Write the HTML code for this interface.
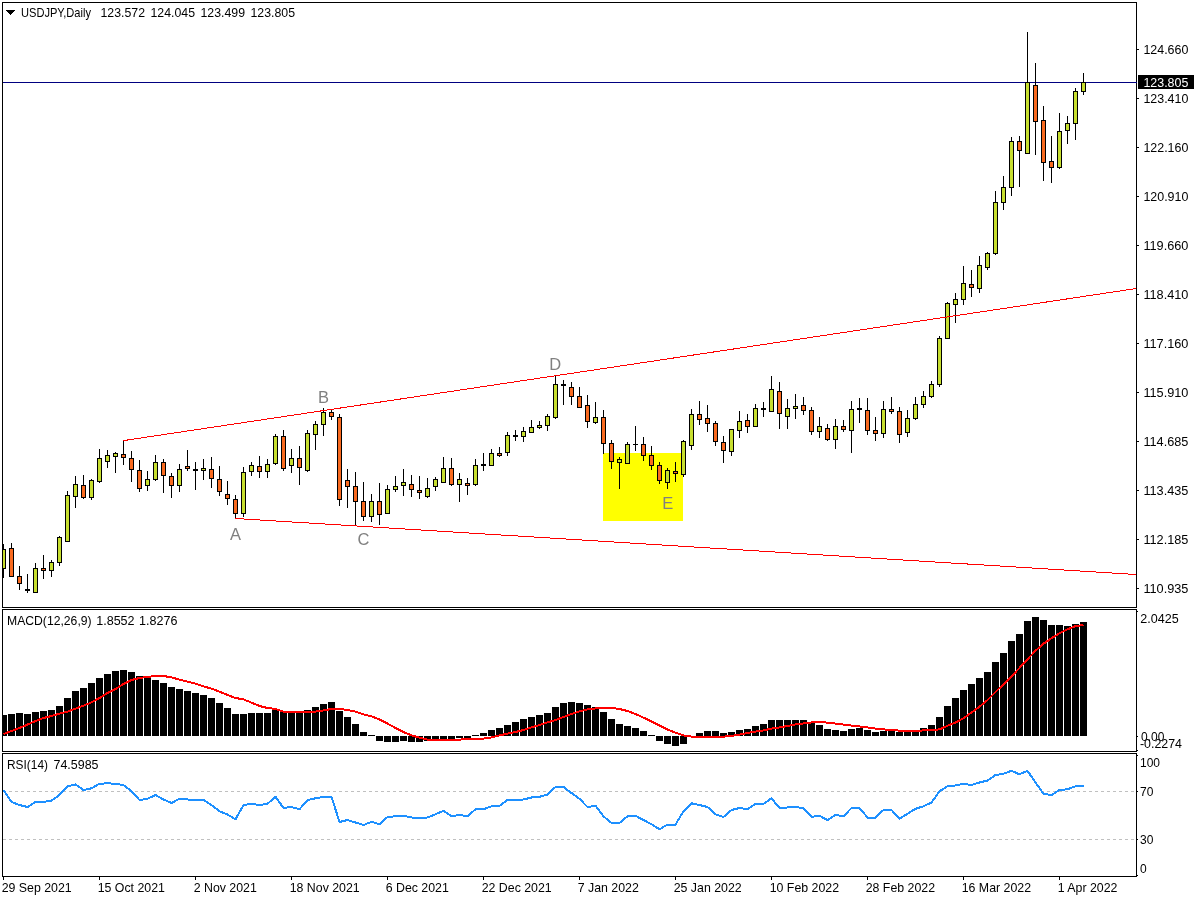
<!DOCTYPE html>
<html lang="en"><head><meta charset="utf-8"><title>USDJPY,Daily</title>
<style>html,body{margin:0;padding:0;background:#fff}body{width:1200px;height:900px;overflow:hidden}svg{display:block}text{font-family:"Liberation Sans",sans-serif;font-size:12px;fill:#000}.lbl{font-size:16.5px;fill:#808080}</style></head><body>
<svg width="1200" height="900" viewBox="0 0 1200 900">
<rect x="0" y="0" width="1200" height="900" fill="#fff"/>
<defs><clipPath id="cm"><rect x="3" y="3" width="1133" height="604"/></clipPath><clipPath id="c2"><rect x="3" y="610" width="1133" height="141"/></clipPath><clipPath id="c3"><rect x="3" y="754" width="1133" height="122"/></clipPath></defs>
<g shape-rendering="crispEdges">
<rect x="603" y="453" width="80" height="68" fill="#FFFF00"/>
<rect x="3" y="82" width="1133" height="1" fill="#000080"/>
<g clip-path="url(#cm)">
<rect x="3" y="544" width="1" height="34" fill="#000"/>
<rect x="1" y="549" width="5" height="20" fill="#000"/>
<rect x="2" y="550" width="3" height="18" fill="#C7DE2F"/>
<rect x="11" y="543" width="1" height="34" fill="#000"/>
<rect x="9" y="548" width="5" height="29" fill="#000"/>
<rect x="10" y="549" width="3" height="27" fill="#F96A1F"/>
<rect x="19" y="566" width="1" height="24" fill="#000"/>
<rect x="17" y="576" width="5" height="8" fill="#000"/>
<rect x="18" y="577" width="3" height="6" fill="#F96A1F"/>
<rect x="27" y="574" width="1" height="19" fill="#000"/>
<rect x="25" y="589" width="5" height="2" fill="#000"/>
<rect x="35" y="563" width="1" height="30" fill="#000"/>
<rect x="33" y="568" width="5" height="25" fill="#000"/>
<rect x="34" y="569" width="3" height="23" fill="#C7DE2F"/>
<rect x="43" y="555" width="1" height="24" fill="#000"/>
<rect x="41" y="568" width="5" height="3" fill="#000"/>
<rect x="42" y="569" width="3" height="1" fill="#F96A1F"/>
<rect x="51" y="560" width="1" height="17" fill="#000"/>
<rect x="49" y="562" width="5" height="9" fill="#000"/>
<rect x="50" y="563" width="3" height="7" fill="#C7DE2F"/>
<rect x="59" y="536" width="1" height="30" fill="#000"/>
<rect x="57" y="537" width="5" height="26" fill="#000"/>
<rect x="58" y="538" width="3" height="24" fill="#C7DE2F"/>
<rect x="67" y="491" width="1" height="51" fill="#000"/>
<rect x="65" y="495" width="5" height="47" fill="#000"/>
<rect x="66" y="496" width="3" height="45" fill="#C7DE2F"/>
<rect x="75" y="476" width="1" height="32" fill="#000"/>
<rect x="73" y="484" width="5" height="13" fill="#000"/>
<rect x="74" y="485" width="3" height="11" fill="#C7DE2F"/>
<rect x="83" y="475" width="1" height="24" fill="#000"/>
<rect x="81" y="485" width="5" height="13" fill="#000"/>
<rect x="82" y="486" width="3" height="11" fill="#F96A1F"/>
<rect x="91" y="479" width="1" height="21" fill="#000"/>
<rect x="89" y="480" width="5" height="18" fill="#000"/>
<rect x="90" y="481" width="3" height="16" fill="#C7DE2F"/>
<rect x="99" y="449" width="1" height="34" fill="#000"/>
<rect x="97" y="458" width="5" height="24" fill="#000"/>
<rect x="98" y="459" width="3" height="22" fill="#C7DE2F"/>
<rect x="107" y="450" width="1" height="18" fill="#000"/>
<rect x="105" y="455" width="5" height="7" fill="#000"/>
<rect x="106" y="456" width="3" height="5" fill="#C7DE2F"/>
<rect x="115" y="452" width="1" height="21" fill="#000"/>
<rect x="113" y="453" width="5" height="4" fill="#000"/>
<rect x="114" y="454" width="3" height="2" fill="#C7DE2F"/>
<rect x="123" y="440" width="1" height="25" fill="#000"/>
<rect x="121" y="454" width="5" height="4" fill="#000"/>
<rect x="122" y="455" width="3" height="2" fill="#F96A1F"/>
<rect x="131" y="451" width="1" height="31" fill="#000"/>
<rect x="129" y="458" width="5" height="12" fill="#000"/>
<rect x="130" y="459" width="3" height="10" fill="#F96A1F"/>
<rect x="139" y="460" width="1" height="32" fill="#000"/>
<rect x="137" y="470" width="5" height="19" fill="#000"/>
<rect x="138" y="471" width="3" height="17" fill="#F96A1F"/>
<rect x="147" y="471" width="1" height="20" fill="#000"/>
<rect x="145" y="479" width="5" height="7" fill="#000"/>
<rect x="146" y="480" width="3" height="5" fill="#C7DE2F"/>
<rect x="155" y="455" width="1" height="26" fill="#000"/>
<rect x="153" y="462" width="5" height="18" fill="#000"/>
<rect x="154" y="463" width="3" height="16" fill="#C7DE2F"/>
<rect x="163" y="459" width="1" height="34" fill="#000"/>
<rect x="161" y="462" width="5" height="14" fill="#000"/>
<rect x="162" y="463" width="3" height="12" fill="#F96A1F"/>
<rect x="171" y="473" width="1" height="25" fill="#000"/>
<rect x="169" y="476" width="5" height="10" fill="#000"/>
<rect x="170" y="477" width="3" height="8" fill="#F96A1F"/>
<rect x="179" y="464" width="1" height="28" fill="#000"/>
<rect x="177" y="469" width="5" height="17" fill="#000"/>
<rect x="178" y="470" width="3" height="15" fill="#C7DE2F"/>
<rect x="187" y="450" width="1" height="21" fill="#000"/>
<rect x="185" y="466" width="5" height="3" fill="#000"/>
<rect x="186" y="467" width="3" height="1" fill="#F96A1F"/>
<rect x="195" y="462" width="1" height="28" fill="#000"/>
<rect x="193" y="469" width="5" height="2" fill="#000"/>
<rect x="203" y="459" width="1" height="21" fill="#000"/>
<rect x="201" y="468" width="5" height="3" fill="#000"/>
<rect x="202" y="469" width="3" height="1" fill="#C7DE2F"/>
<rect x="211" y="457" width="1" height="31" fill="#000"/>
<rect x="209" y="469" width="5" height="10" fill="#000"/>
<rect x="210" y="470" width="3" height="8" fill="#F96A1F"/>
<rect x="219" y="466" width="1" height="30" fill="#000"/>
<rect x="217" y="479" width="5" height="13" fill="#000"/>
<rect x="218" y="480" width="3" height="11" fill="#F96A1F"/>
<rect x="227" y="481" width="1" height="24" fill="#000"/>
<rect x="225" y="494" width="5" height="5" fill="#000"/>
<rect x="226" y="495" width="3" height="3" fill="#F96A1F"/>
<rect x="235" y="495" width="1" height="24" fill="#000"/>
<rect x="233" y="499" width="5" height="15" fill="#000"/>
<rect x="234" y="500" width="3" height="13" fill="#F96A1F"/>
<rect x="243" y="467" width="1" height="50" fill="#000"/>
<rect x="241" y="472" width="5" height="42" fill="#000"/>
<rect x="242" y="473" width="3" height="40" fill="#C7DE2F"/>
<rect x="251" y="462" width="1" height="14" fill="#000"/>
<rect x="249" y="465" width="5" height="7" fill="#000"/>
<rect x="250" y="466" width="3" height="5" fill="#C7DE2F"/>
<rect x="259" y="456" width="1" height="22" fill="#000"/>
<rect x="257" y="466" width="5" height="6" fill="#000"/>
<rect x="258" y="467" width="3" height="4" fill="#F96A1F"/>
<rect x="267" y="459" width="1" height="19" fill="#000"/>
<rect x="265" y="464" width="5" height="8" fill="#000"/>
<rect x="266" y="465" width="3" height="6" fill="#C7DE2F"/>
<rect x="275" y="434" width="1" height="31" fill="#000"/>
<rect x="273" y="436" width="5" height="28" fill="#000"/>
<rect x="274" y="437" width="3" height="26" fill="#C7DE2F"/>
<rect x="283" y="430" width="1" height="41" fill="#000"/>
<rect x="281" y="436" width="5" height="33" fill="#000"/>
<rect x="282" y="437" width="3" height="31" fill="#F96A1F"/>
<rect x="291" y="449" width="1" height="24" fill="#000"/>
<rect x="289" y="458" width="5" height="8" fill="#000"/>
<rect x="290" y="459" width="3" height="6" fill="#C7DE2F"/>
<rect x="299" y="446" width="1" height="39" fill="#000"/>
<rect x="297" y="458" width="5" height="10" fill="#000"/>
<rect x="298" y="459" width="3" height="8" fill="#F96A1F"/>
<rect x="307" y="430" width="1" height="42" fill="#000"/>
<rect x="305" y="433" width="5" height="38" fill="#000"/>
<rect x="306" y="434" width="3" height="36" fill="#C7DE2F"/>
<rect x="315" y="421" width="1" height="29" fill="#000"/>
<rect x="313" y="424" width="5" height="11" fill="#000"/>
<rect x="314" y="425" width="3" height="9" fill="#C7DE2F"/>
<rect x="323" y="408" width="1" height="28" fill="#000"/>
<rect x="321" y="412" width="5" height="13" fill="#000"/>
<rect x="322" y="413" width="3" height="11" fill="#C7DE2F"/>
<rect x="331" y="410" width="1" height="10" fill="#000"/>
<rect x="329" y="412" width="5" height="5" fill="#000"/>
<rect x="330" y="413" width="3" height="3" fill="#F96A1F"/>
<rect x="339" y="414" width="1" height="92" fill="#000"/>
<rect x="337" y="417" width="5" height="83" fill="#000"/>
<rect x="338" y="418" width="3" height="81" fill="#F96A1F"/>
<rect x="347" y="469" width="1" height="39" fill="#000"/>
<rect x="345" y="480" width="5" height="7" fill="#000"/>
<rect x="346" y="481" width="3" height="5" fill="#F96A1F"/>
<rect x="355" y="472" width="1" height="54" fill="#000"/>
<rect x="353" y="486" width="5" height="16" fill="#000"/>
<rect x="354" y="487" width="3" height="14" fill="#F96A1F"/>
<rect x="363" y="482" width="1" height="39" fill="#000"/>
<rect x="361" y="501" width="5" height="16" fill="#000"/>
<rect x="362" y="502" width="3" height="14" fill="#F96A1F"/>
<rect x="371" y="494" width="1" height="28" fill="#000"/>
<rect x="369" y="501" width="5" height="16" fill="#000"/>
<rect x="370" y="502" width="3" height="14" fill="#C7DE2F"/>
<rect x="379" y="483" width="1" height="42" fill="#000"/>
<rect x="377" y="501" width="5" height="14" fill="#000"/>
<rect x="378" y="502" width="3" height="12" fill="#F96A1F"/>
<rect x="387" y="485" width="1" height="29" fill="#000"/>
<rect x="385" y="489" width="5" height="25" fill="#000"/>
<rect x="386" y="490" width="3" height="23" fill="#C7DE2F"/>
<rect x="395" y="476" width="1" height="16" fill="#000"/>
<rect x="393" y="486" width="5" height="4" fill="#000"/>
<rect x="394" y="487" width="3" height="2" fill="#C7DE2F"/>
<rect x="403" y="469" width="1" height="27" fill="#000"/>
<rect x="401" y="482" width="5" height="4" fill="#000"/>
<rect x="402" y="483" width="3" height="2" fill="#C7DE2F"/>
<rect x="411" y="475" width="1" height="22" fill="#000"/>
<rect x="409" y="484" width="5" height="6" fill="#000"/>
<rect x="410" y="485" width="3" height="4" fill="#F96A1F"/>
<rect x="419" y="476" width="1" height="23" fill="#000"/>
<rect x="417" y="490" width="5" height="3" fill="#000"/>
<rect x="418" y="491" width="3" height="1" fill="#F96A1F"/>
<rect x="427" y="478" width="1" height="20" fill="#000"/>
<rect x="425" y="488" width="5" height="9" fill="#000"/>
<rect x="426" y="489" width="3" height="7" fill="#C7DE2F"/>
<rect x="435" y="477" width="1" height="14" fill="#000"/>
<rect x="433" y="479" width="5" height="8" fill="#000"/>
<rect x="434" y="480" width="3" height="6" fill="#C7DE2F"/>
<rect x="443" y="457" width="1" height="26" fill="#000"/>
<rect x="441" y="468" width="5" height="15" fill="#000"/>
<rect x="442" y="469" width="3" height="13" fill="#C7DE2F"/>
<rect x="451" y="458" width="1" height="28" fill="#000"/>
<rect x="449" y="468" width="5" height="17" fill="#000"/>
<rect x="450" y="469" width="3" height="15" fill="#F96A1F"/>
<rect x="459" y="473" width="1" height="29" fill="#000"/>
<rect x="457" y="479" width="5" height="6" fill="#000"/>
<rect x="458" y="480" width="3" height="4" fill="#C7DE2F"/>
<rect x="467" y="478" width="1" height="17" fill="#000"/>
<rect x="465" y="483" width="5" height="3" fill="#000"/>
<rect x="466" y="484" width="3" height="1" fill="#F96A1F"/>
<rect x="475" y="459" width="1" height="27" fill="#000"/>
<rect x="473" y="465" width="5" height="20" fill="#000"/>
<rect x="474" y="466" width="3" height="18" fill="#C7DE2F"/>
<rect x="483" y="453" width="1" height="18" fill="#000"/>
<rect x="481" y="464" width="5" height="2" fill="#000"/>
<rect x="491" y="449" width="1" height="17" fill="#000"/>
<rect x="489" y="453" width="5" height="13" fill="#000"/>
<rect x="490" y="454" width="3" height="11" fill="#C7DE2F"/>
<rect x="499" y="447" width="1" height="10" fill="#000"/>
<rect x="497" y="453" width="5" height="3" fill="#000"/>
<rect x="498" y="454" width="3" height="1" fill="#F96A1F"/>
<rect x="507" y="432" width="1" height="24" fill="#000"/>
<rect x="505" y="435" width="5" height="18" fill="#000"/>
<rect x="506" y="436" width="3" height="16" fill="#C7DE2F"/>
<rect x="515" y="430" width="1" height="11" fill="#000"/>
<rect x="513" y="435" width="5" height="2" fill="#000"/>
<rect x="523" y="427" width="1" height="15" fill="#000"/>
<rect x="521" y="431" width="5" height="6" fill="#000"/>
<rect x="522" y="432" width="3" height="4" fill="#C7DE2F"/>
<rect x="531" y="420" width="1" height="13" fill="#000"/>
<rect x="529" y="427" width="5" height="6" fill="#000"/>
<rect x="530" y="428" width="3" height="4" fill="#C7DE2F"/>
<rect x="539" y="421" width="1" height="8" fill="#000"/>
<rect x="537" y="425" width="5" height="3" fill="#000"/>
<rect x="538" y="426" width="3" height="1" fill="#C7DE2F"/>
<rect x="547" y="414" width="1" height="17" fill="#000"/>
<rect x="545" y="416" width="5" height="10" fill="#000"/>
<rect x="546" y="417" width="3" height="8" fill="#C7DE2F"/>
<rect x="555" y="375" width="1" height="44" fill="#000"/>
<rect x="553" y="384" width="5" height="34" fill="#000"/>
<rect x="554" y="385" width="3" height="32" fill="#C7DE2F"/>
<rect x="563" y="380" width="1" height="25" fill="#000"/>
<rect x="561" y="384" width="5" height="2" fill="#000"/>
<rect x="571" y="382" width="1" height="23" fill="#000"/>
<rect x="569" y="387" width="5" height="10" fill="#000"/>
<rect x="570" y="388" width="3" height="8" fill="#F96A1F"/>
<rect x="579" y="387" width="1" height="21" fill="#000"/>
<rect x="577" y="396" width="5" height="12" fill="#000"/>
<rect x="578" y="397" width="3" height="10" fill="#F96A1F"/>
<rect x="587" y="395" width="1" height="33" fill="#000"/>
<rect x="585" y="405" width="5" height="17" fill="#000"/>
<rect x="586" y="406" width="3" height="15" fill="#F96A1F"/>
<rect x="595" y="402" width="1" height="22" fill="#000"/>
<rect x="593" y="417" width="5" height="6" fill="#000"/>
<rect x="594" y="418" width="3" height="4" fill="#C7DE2F"/>
<rect x="603" y="410" width="1" height="44" fill="#000"/>
<rect x="601" y="417" width="5" height="27" fill="#000"/>
<rect x="602" y="418" width="3" height="25" fill="#F96A1F"/>
<rect x="611" y="440" width="1" height="29" fill="#000"/>
<rect x="609" y="443" width="5" height="19" fill="#000"/>
<rect x="610" y="444" width="3" height="17" fill="#F96A1F"/>
<rect x="619" y="457" width="1" height="32" fill="#000"/>
<rect x="617" y="459" width="5" height="4" fill="#000"/>
<rect x="618" y="460" width="3" height="2" fill="#C7DE2F"/>
<rect x="627" y="442" width="1" height="22" fill="#000"/>
<rect x="625" y="444" width="5" height="20" fill="#000"/>
<rect x="626" y="445" width="3" height="18" fill="#C7DE2F"/>
<rect x="635" y="426" width="1" height="25" fill="#000"/>
<rect x="633" y="444" width="5" height="1" fill="#000"/>
<rect x="643" y="437" width="1" height="24" fill="#000"/>
<rect x="641" y="444" width="5" height="12" fill="#000"/>
<rect x="642" y="445" width="3" height="10" fill="#F96A1F"/>
<rect x="651" y="446" width="1" height="24" fill="#000"/>
<rect x="649" y="455" width="5" height="11" fill="#000"/>
<rect x="650" y="456" width="3" height="9" fill="#F96A1F"/>
<rect x="659" y="462" width="1" height="22" fill="#000"/>
<rect x="657" y="465" width="5" height="16" fill="#000"/>
<rect x="658" y="466" width="3" height="14" fill="#F96A1F"/>
<rect x="667" y="468" width="1" height="21" fill="#000"/>
<rect x="665" y="470" width="5" height="13" fill="#000"/>
<rect x="666" y="471" width="3" height="11" fill="#C7DE2F"/>
<rect x="675" y="462" width="1" height="20" fill="#000"/>
<rect x="673" y="471" width="5" height="3" fill="#000"/>
<rect x="674" y="472" width="3" height="1" fill="#F96A1F"/>
<rect x="683" y="440" width="1" height="37" fill="#000"/>
<rect x="681" y="441" width="5" height="34" fill="#000"/>
<rect x="682" y="442" width="3" height="32" fill="#C7DE2F"/>
<rect x="691" y="409" width="1" height="41" fill="#000"/>
<rect x="689" y="414" width="5" height="32" fill="#000"/>
<rect x="690" y="415" width="3" height="30" fill="#C7DE2F"/>
<rect x="699" y="401" width="1" height="24" fill="#000"/>
<rect x="697" y="414" width="5" height="6" fill="#000"/>
<rect x="698" y="415" width="3" height="4" fill="#F96A1F"/>
<rect x="707" y="405" width="1" height="27" fill="#000"/>
<rect x="705" y="418" width="5" height="6" fill="#000"/>
<rect x="706" y="419" width="3" height="4" fill="#F96A1F"/>
<rect x="715" y="421" width="1" height="25" fill="#000"/>
<rect x="713" y="423" width="5" height="19" fill="#000"/>
<rect x="714" y="424" width="3" height="17" fill="#F96A1F"/>
<rect x="723" y="436" width="1" height="27" fill="#000"/>
<rect x="721" y="442" width="5" height="9" fill="#000"/>
<rect x="722" y="443" width="3" height="7" fill="#F96A1F"/>
<rect x="731" y="429" width="1" height="27" fill="#000"/>
<rect x="729" y="429" width="5" height="23" fill="#000"/>
<rect x="730" y="430" width="3" height="21" fill="#C7DE2F"/>
<rect x="739" y="411" width="1" height="27" fill="#000"/>
<rect x="737" y="421" width="5" height="10" fill="#000"/>
<rect x="738" y="422" width="3" height="8" fill="#C7DE2F"/>
<rect x="747" y="414" width="1" height="19" fill="#000"/>
<rect x="745" y="420" width="5" height="7" fill="#000"/>
<rect x="746" y="421" width="3" height="5" fill="#F96A1F"/>
<rect x="755" y="404" width="1" height="23" fill="#000"/>
<rect x="753" y="408" width="5" height="19" fill="#000"/>
<rect x="754" y="409" width="3" height="17" fill="#C7DE2F"/>
<rect x="763" y="402" width="1" height="15" fill="#000"/>
<rect x="761" y="408" width="5" height="2" fill="#000"/>
<rect x="771" y="376" width="1" height="36" fill="#000"/>
<rect x="769" y="389" width="5" height="23" fill="#000"/>
<rect x="770" y="390" width="3" height="21" fill="#C7DE2F"/>
<rect x="779" y="382" width="1" height="47" fill="#000"/>
<rect x="777" y="391" width="5" height="23" fill="#000"/>
<rect x="778" y="392" width="3" height="21" fill="#F96A1F"/>
<rect x="787" y="399" width="1" height="30" fill="#000"/>
<rect x="785" y="408" width="5" height="9" fill="#000"/>
<rect x="786" y="409" width="3" height="7" fill="#C7DE2F"/>
<rect x="795" y="394" width="1" height="25" fill="#000"/>
<rect x="793" y="406" width="5" height="3" fill="#000"/>
<rect x="794" y="407" width="3" height="1" fill="#C7DE2F"/>
<rect x="803" y="397" width="1" height="18" fill="#000"/>
<rect x="801" y="405" width="5" height="6" fill="#000"/>
<rect x="802" y="406" width="3" height="4" fill="#F96A1F"/>
<rect x="811" y="407" width="1" height="28" fill="#000"/>
<rect x="809" y="410" width="5" height="22" fill="#000"/>
<rect x="810" y="411" width="3" height="20" fill="#F96A1F"/>
<rect x="819" y="417" width="1" height="21" fill="#000"/>
<rect x="817" y="426" width="5" height="6" fill="#000"/>
<rect x="818" y="427" width="3" height="4" fill="#C7DE2F"/>
<rect x="827" y="424" width="1" height="17" fill="#000"/>
<rect x="825" y="428" width="5" height="12" fill="#000"/>
<rect x="826" y="429" width="3" height="10" fill="#F96A1F"/>
<rect x="835" y="419" width="1" height="30" fill="#000"/>
<rect x="833" y="426" width="5" height="14" fill="#000"/>
<rect x="834" y="427" width="3" height="12" fill="#C7DE2F"/>
<rect x="843" y="420" width="1" height="12" fill="#000"/>
<rect x="841" y="426" width="5" height="4" fill="#000"/>
<rect x="842" y="427" width="3" height="2" fill="#F96A1F"/>
<rect x="851" y="401" width="1" height="52" fill="#000"/>
<rect x="849" y="409" width="5" height="22" fill="#000"/>
<rect x="850" y="410" width="3" height="20" fill="#C7DE2F"/>
<rect x="859" y="398" width="1" height="25" fill="#000"/>
<rect x="857" y="408" width="5" height="2" fill="#000"/>
<rect x="867" y="398" width="1" height="37" fill="#000"/>
<rect x="865" y="410" width="5" height="21" fill="#000"/>
<rect x="866" y="411" width="3" height="19" fill="#F96A1F"/>
<rect x="875" y="417" width="1" height="24" fill="#000"/>
<rect x="873" y="430" width="5" height="4" fill="#000"/>
<rect x="874" y="431" width="3" height="2" fill="#F96A1F"/>
<rect x="883" y="401" width="1" height="37" fill="#000"/>
<rect x="881" y="409" width="5" height="25" fill="#000"/>
<rect x="882" y="410" width="3" height="23" fill="#C7DE2F"/>
<rect x="891" y="397" width="1" height="17" fill="#000"/>
<rect x="889" y="409" width="5" height="3" fill="#000"/>
<rect x="890" y="410" width="3" height="1" fill="#F96A1F"/>
<rect x="899" y="407" width="1" height="36" fill="#000"/>
<rect x="897" y="411" width="5" height="24" fill="#000"/>
<rect x="898" y="412" width="3" height="22" fill="#F96A1F"/>
<rect x="907" y="410" width="1" height="27" fill="#000"/>
<rect x="905" y="418" width="5" height="15" fill="#000"/>
<rect x="906" y="419" width="3" height="13" fill="#C7DE2F"/>
<rect x="915" y="397" width="1" height="23" fill="#000"/>
<rect x="913" y="404" width="5" height="15" fill="#000"/>
<rect x="914" y="405" width="3" height="13" fill="#C7DE2F"/>
<rect x="923" y="391" width="1" height="17" fill="#000"/>
<rect x="921" y="396" width="5" height="9" fill="#000"/>
<rect x="922" y="397" width="3" height="7" fill="#C7DE2F"/>
<rect x="931" y="381" width="1" height="17" fill="#000"/>
<rect x="929" y="384" width="5" height="13" fill="#000"/>
<rect x="930" y="385" width="3" height="11" fill="#C7DE2F"/>
<rect x="939" y="336" width="1" height="51" fill="#000"/>
<rect x="937" y="338" width="5" height="47" fill="#000"/>
<rect x="938" y="339" width="3" height="45" fill="#C7DE2F"/>
<rect x="947" y="302" width="1" height="37" fill="#000"/>
<rect x="945" y="303" width="5" height="36" fill="#000"/>
<rect x="946" y="304" width="3" height="34" fill="#C7DE2F"/>
<rect x="955" y="293" width="1" height="30" fill="#000"/>
<rect x="953" y="299" width="5" height="6" fill="#000"/>
<rect x="954" y="300" width="3" height="4" fill="#C7DE2F"/>
<rect x="963" y="266" width="1" height="39" fill="#000"/>
<rect x="961" y="283" width="5" height="17" fill="#000"/>
<rect x="962" y="284" width="3" height="15" fill="#C7DE2F"/>
<rect x="971" y="270" width="1" height="27" fill="#000"/>
<rect x="969" y="284" width="5" height="4" fill="#000"/>
<rect x="970" y="285" width="3" height="2" fill="#F96A1F"/>
<rect x="979" y="256" width="1" height="37" fill="#000"/>
<rect x="977" y="265" width="5" height="24" fill="#000"/>
<rect x="978" y="266" width="3" height="22" fill="#C7DE2F"/>
<rect x="987" y="252" width="1" height="18" fill="#000"/>
<rect x="985" y="253" width="5" height="15" fill="#000"/>
<rect x="986" y="254" width="3" height="13" fill="#C7DE2F"/>
<rect x="995" y="191" width="1" height="64" fill="#000"/>
<rect x="993" y="202" width="5" height="52" fill="#000"/>
<rect x="994" y="203" width="3" height="50" fill="#C7DE2F"/>
<rect x="1003" y="176" width="1" height="34" fill="#000"/>
<rect x="1001" y="187" width="5" height="16" fill="#000"/>
<rect x="1002" y="188" width="3" height="14" fill="#C7DE2F"/>
<rect x="1011" y="137" width="1" height="59" fill="#000"/>
<rect x="1009" y="141" width="5" height="47" fill="#000"/>
<rect x="1010" y="142" width="3" height="45" fill="#C7DE2F"/>
<rect x="1019" y="136" width="1" height="51" fill="#000"/>
<rect x="1017" y="141" width="5" height="10" fill="#000"/>
<rect x="1018" y="142" width="3" height="8" fill="#F96A1F"/>
<rect x="1027" y="32" width="1" height="122" fill="#000"/>
<rect x="1025" y="82" width="5" height="72" fill="#000"/>
<rect x="1026" y="83" width="3" height="70" fill="#C7DE2F"/>
<rect x="1035" y="63" width="1" height="92" fill="#000"/>
<rect x="1033" y="85" width="5" height="37" fill="#000"/>
<rect x="1034" y="86" width="3" height="35" fill="#F96A1F"/>
<rect x="1043" y="106" width="1" height="75" fill="#000"/>
<rect x="1041" y="120" width="5" height="43" fill="#000"/>
<rect x="1042" y="121" width="3" height="41" fill="#F96A1F"/>
<rect x="1051" y="136" width="1" height="47" fill="#000"/>
<rect x="1049" y="161" width="5" height="7" fill="#000"/>
<rect x="1050" y="162" width="3" height="5" fill="#F96A1F"/>
<rect x="1059" y="113" width="1" height="56" fill="#000"/>
<rect x="1057" y="131" width="5" height="37" fill="#000"/>
<rect x="1058" y="132" width="3" height="35" fill="#C7DE2F"/>
<rect x="1067" y="116" width="1" height="28" fill="#000"/>
<rect x="1065" y="123" width="5" height="8" fill="#000"/>
<rect x="1066" y="124" width="3" height="6" fill="#C7DE2F"/>
<rect x="1075" y="88" width="1" height="52" fill="#000"/>
<rect x="1073" y="91" width="5" height="33" fill="#000"/>
<rect x="1074" y="92" width="3" height="31" fill="#C7DE2F"/>
<rect x="1083" y="73" width="1" height="22" fill="#000"/>
<rect x="1081" y="82" width="5" height="10" fill="#000"/>
<rect x="1082" y="83" width="3" height="8" fill="#C7DE2F"/>
</g>
<g clip-path="url(#cm)" stroke="#FF0000" stroke-width="1" fill="none">
<line x1="123.5" y1="440.6" x2="1137" y2="288.42"/>
<line x1="235.5" y1="518.46" x2="1137" y2="574.55"/>
</g>
</g>
<g shape-rendering="crispEdges" clip-path="url(#c2)">
<rect x="0" y="715" width="7" height="21" fill="#000"/>
<rect x="8" y="714" width="7" height="22" fill="#000"/>
<rect x="16" y="713" width="7" height="23" fill="#000"/>
<rect x="24" y="714" width="7" height="22" fill="#000"/>
<rect x="32" y="712" width="7" height="24" fill="#000"/>
<rect x="40" y="711" width="7" height="25" fill="#000"/>
<rect x="48" y="710" width="7" height="26" fill="#000"/>
<rect x="56" y="706" width="7" height="30" fill="#000"/>
<rect x="64" y="698" width="7" height="38" fill="#000"/>
<rect x="72" y="691" width="7" height="45" fill="#000"/>
<rect x="80" y="688" width="7" height="48" fill="#000"/>
<rect x="88" y="683" width="7" height="53" fill="#000"/>
<rect x="96" y="678" width="7" height="58" fill="#000"/>
<rect x="104" y="674" width="7" height="62" fill="#000"/>
<rect x="112" y="671" width="7" height="65" fill="#000"/>
<rect x="120" y="670" width="7" height="66" fill="#000"/>
<rect x="128" y="672" width="7" height="64" fill="#000"/>
<rect x="136" y="676" width="7" height="60" fill="#000"/>
<rect x="144" y="678" width="7" height="58" fill="#000"/>
<rect x="152" y="680" width="7" height="56" fill="#000"/>
<rect x="160" y="683" width="7" height="53" fill="#000"/>
<rect x="168" y="687" width="7" height="49" fill="#000"/>
<rect x="176" y="689" width="7" height="47" fill="#000"/>
<rect x="184" y="691" width="7" height="45" fill="#000"/>
<rect x="192" y="693" width="7" height="43" fill="#000"/>
<rect x="200" y="695" width="7" height="41" fill="#000"/>
<rect x="208" y="698" width="7" height="38" fill="#000"/>
<rect x="216" y="703" width="7" height="33" fill="#000"/>
<rect x="224" y="708" width="7" height="28" fill="#000"/>
<rect x="232" y="714" width="7" height="22" fill="#000"/>
<rect x="240" y="714" width="7" height="22" fill="#000"/>
<rect x="248" y="713" width="7" height="23" fill="#000"/>
<rect x="256" y="713" width="7" height="23" fill="#000"/>
<rect x="264" y="713" width="7" height="23" fill="#000"/>
<rect x="272" y="710" width="7" height="26" fill="#000"/>
<rect x="280" y="712" width="7" height="24" fill="#000"/>
<rect x="288" y="712" width="7" height="24" fill="#000"/>
<rect x="296" y="712" width="7" height="24" fill="#000"/>
<rect x="304" y="710" width="7" height="26" fill="#000"/>
<rect x="312" y="707" width="7" height="29" fill="#000"/>
<rect x="320" y="704" width="7" height="32" fill="#000"/>
<rect x="328" y="702" width="7" height="34" fill="#000"/>
<rect x="336" y="711" width="7" height="25" fill="#000"/>
<rect x="344" y="717" width="7" height="19" fill="#000"/>
<rect x="352" y="724" width="7" height="12" fill="#000"/>
<rect x="360" y="732" width="7" height="4" fill="#000"/>
<rect x="368" y="735" width="7" height="1" fill="#000"/>
<rect x="376" y="736" width="7" height="5" fill="#000"/>
<rect x="384" y="736" width="7" height="6" fill="#000"/>
<rect x="392" y="736" width="7" height="6" fill="#000"/>
<rect x="400" y="736" width="7" height="5" fill="#000"/>
<rect x="408" y="736" width="7" height="6" fill="#000"/>
<rect x="416" y="736" width="7" height="6" fill="#000"/>
<rect x="424" y="736" width="7" height="5" fill="#000"/>
<rect x="432" y="736" width="7" height="3" fill="#000"/>
<rect x="440" y="736" width="7" height="3" fill="#000"/>
<rect x="448" y="736" width="7" height="3" fill="#000"/>
<rect x="456" y="736" width="7" height="2" fill="#000"/>
<rect x="464" y="736" width="7" height="2" fill="#000"/>
<rect x="472" y="735" width="7" height="1" fill="#000"/>
<rect x="480" y="733" width="7" height="3" fill="#000"/>
<rect x="488" y="730" width="7" height="6" fill="#000"/>
<rect x="496" y="728" width="7" height="8" fill="#000"/>
<rect x="504" y="725" width="7" height="11" fill="#000"/>
<rect x="512" y="722" width="7" height="14" fill="#000"/>
<rect x="520" y="719" width="7" height="17" fill="#000"/>
<rect x="528" y="717" width="7" height="19" fill="#000"/>
<rect x="536" y="715" width="7" height="21" fill="#000"/>
<rect x="544" y="713" width="7" height="23" fill="#000"/>
<rect x="552" y="707" width="7" height="29" fill="#000"/>
<rect x="560" y="703" width="7" height="33" fill="#000"/>
<rect x="568" y="702" width="7" height="34" fill="#000"/>
<rect x="576" y="703" width="7" height="33" fill="#000"/>
<rect x="584" y="705" width="7" height="31" fill="#000"/>
<rect x="592" y="707" width="7" height="29" fill="#000"/>
<rect x="600" y="712" width="7" height="24" fill="#000"/>
<rect x="608" y="719" width="7" height="17" fill="#000"/>
<rect x="616" y="724" width="7" height="12" fill="#000"/>
<rect x="624" y="726" width="7" height="10" fill="#000"/>
<rect x="632" y="728" width="7" height="8" fill="#000"/>
<rect x="640" y="731" width="7" height="5" fill="#000"/>
<rect x="648" y="735" width="7" height="1" fill="#000"/>
<rect x="656" y="736" width="7" height="5" fill="#000"/>
<rect x="664" y="736" width="7" height="8" fill="#000"/>
<rect x="672" y="736" width="7" height="10" fill="#000"/>
<rect x="680" y="736" width="7" height="8" fill="#000"/>
<rect x="696" y="733" width="7" height="3" fill="#000"/>
<rect x="704" y="731" width="7" height="5" fill="#000"/>
<rect x="712" y="731" width="7" height="5" fill="#000"/>
<rect x="720" y="733" width="7" height="3" fill="#000"/>
<rect x="728" y="732" width="7" height="4" fill="#000"/>
<rect x="736" y="730" width="7" height="6" fill="#000"/>
<rect x="744" y="729" width="7" height="7" fill="#000"/>
<rect x="752" y="726" width="7" height="10" fill="#000"/>
<rect x="760" y="724" width="7" height="12" fill="#000"/>
<rect x="768" y="720" width="7" height="16" fill="#000"/>
<rect x="776" y="720" width="7" height="16" fill="#000"/>
<rect x="784" y="720" width="7" height="16" fill="#000"/>
<rect x="792" y="720" width="7" height="16" fill="#000"/>
<rect x="800" y="720" width="7" height="16" fill="#000"/>
<rect x="808" y="722" width="7" height="14" fill="#000"/>
<rect x="816" y="725" width="7" height="11" fill="#000"/>
<rect x="824" y="729" width="7" height="7" fill="#000"/>
<rect x="832" y="730" width="7" height="6" fill="#000"/>
<rect x="840" y="731" width="7" height="5" fill="#000"/>
<rect x="848" y="729" width="7" height="7" fill="#000"/>
<rect x="856" y="728" width="7" height="8" fill="#000"/>
<rect x="864" y="730" width="7" height="6" fill="#000"/>
<rect x="872" y="732" width="7" height="4" fill="#000"/>
<rect x="880" y="731" width="7" height="5" fill="#000"/>
<rect x="888" y="730" width="7" height="6" fill="#000"/>
<rect x="896" y="732" width="7" height="4" fill="#000"/>
<rect x="904" y="732" width="7" height="4" fill="#000"/>
<rect x="912" y="731" width="7" height="5" fill="#000"/>
<rect x="920" y="728" width="7" height="8" fill="#000"/>
<rect x="928" y="725" width="7" height="11" fill="#000"/>
<rect x="936" y="717" width="7" height="19" fill="#000"/>
<rect x="944" y="706" width="7" height="30" fill="#000"/>
<rect x="952" y="698" width="7" height="38" fill="#000"/>
<rect x="960" y="690" width="7" height="46" fill="#000"/>
<rect x="968" y="684" width="7" height="52" fill="#000"/>
<rect x="976" y="678" width="7" height="58" fill="#000"/>
<rect x="984" y="672" width="7" height="64" fill="#000"/>
<rect x="992" y="662" width="7" height="74" fill="#000"/>
<rect x="1000" y="653" width="7" height="83" fill="#000"/>
<rect x="1008" y="641" width="7" height="95" fill="#000"/>
<rect x="1016" y="634" width="7" height="102" fill="#000"/>
<rect x="1024" y="621" width="7" height="115" fill="#000"/>
<rect x="1032" y="617" width="7" height="119" fill="#000"/>
<rect x="1040" y="620" width="7" height="116" fill="#000"/>
<rect x="1048" y="625" width="7" height="111" fill="#000"/>
<rect x="1056" y="625" width="7" height="111" fill="#000"/>
<rect x="1064" y="626" width="7" height="110" fill="#000"/>
<rect x="1072" y="624" width="7" height="112" fill="#000"/>
<rect x="1080" y="622" width="7" height="114" fill="#000"/>
</g>
<polyline clip-path="url(#c2)" points="3.5,734.0 11.5,731.0 19.5,728.0 27.5,724.6 35.5,721.0 43.5,718.0 51.5,716.0 59.5,713.6 67.5,711.6 75.5,708.6 83.5,705.6 91.5,702.4 99.5,698.0 107.5,693.0 115.5,689.0 123.5,684.0 131.5,680.0 139.5,678.0 147.5,677.0 155.5,676.0 163.5,676.0 171.5,677.4 179.5,679.6 187.5,681.6 195.5,683.6 203.5,686.4 211.5,688.6 219.5,691.6 227.5,695.0 235.5,698.0 243.5,699.4 251.5,702.6 259.5,706.0 267.5,708.0 275.5,709.0 283.5,711.6 291.5,712.0 299.5,712.0 307.5,712.0 315.5,711.6 323.5,710.4 331.5,709.0 339.5,709.0 347.5,710.0 355.5,711.6 363.5,714.4 371.5,716.4 379.5,719.4 387.5,723.6 395.5,728.0 403.5,732.0 411.5,735.4 419.5,737.6 427.5,739.6 435.5,740.0 443.5,740.0 451.5,740.0 459.5,739.6 467.5,739.0 475.5,739.0 483.5,738.6 491.5,737.4 499.5,735.4 507.5,733.6 515.5,732.0 523.5,730.0 531.5,727.4 539.5,725.0 547.5,722.4 555.5,720.0 563.5,717.0 571.5,714.0 579.5,711.4 587.5,709.4 595.5,708.4 603.5,708.0 611.5,708.0 619.5,709.0 627.5,711.0 635.5,714.0 643.5,717.6 651.5,721.6 659.5,725.6 667.5,729.6 675.5,732.6 683.5,735.4 691.5,736.6 699.5,736.6 707.5,736.6 715.5,736.6 723.5,736.6 731.5,736.0 739.5,734.6 747.5,733.0 755.5,731.6 763.5,730.4 771.5,728.6 779.5,727.4 787.5,726.0 795.5,724.4 803.5,723.4 811.5,722.4 819.5,722.0 827.5,722.6 835.5,723.6 843.5,724.6 851.5,725.6 859.5,726.4 867.5,727.4 875.5,728.6 883.5,729.4 891.5,730.0 899.5,730.6 907.5,731.0 915.5,731.0 923.5,730.4 931.5,730.0 939.5,729.4 947.5,725.8 955.5,722.5 963.5,718.3 971.5,712.5 979.5,706.7 987.5,700.0 995.5,692.0 1003.5,684.2 1011.5,676.3 1019.5,668.0 1027.5,659.2 1035.5,650.8 1043.5,643.7 1051.5,638.3 1059.5,633.3 1067.5,629.2 1075.5,626.2 1083.5,625.0" fill="none" stroke="#FF0000" stroke-width="2" stroke-linejoin="round" shape-rendering="crispEdges"/>
<g shape-rendering="crispEdges" stroke="#C0C0C0" stroke-width="1" stroke-dasharray="3,3">
<line x1="3" y1="791.5" x2="1136" y2="791.5"/><line x1="3" y1="839.5" x2="1136" y2="839.5"/>
</g>
<polyline clip-path="url(#c3)" points="3.5,790.0 11.5,802.0 19.5,805.0 27.5,807.0 35.5,802.0 43.5,802.0 51.5,800.5 59.5,795.0 67.5,786.3 75.5,784.5 83.5,790.0 91.5,788.3 99.5,783.8 107.5,783.3 115.5,783.8 123.5,785.0 131.5,791.3 139.5,800.0 147.5,798.8 155.5,795.0 163.5,799.5 171.5,803.0 179.5,798.8 187.5,799.5 195.5,800.0 203.5,800.0 211.5,805.0 219.5,811.3 227.5,814.5 235.5,819.3 243.5,805.0 251.5,803.8 259.5,805.0 267.5,803.8 275.5,796.8 283.5,808.0 291.5,807.0 299.5,809.3 307.5,800.0 315.5,798.3 323.5,796.8 331.5,796.8 339.5,822.0 347.5,820.0 355.5,822.5 363.5,825.0 371.5,821.8 379.5,824.3 387.5,817.0 395.5,816.3 403.5,815.8 411.5,817.5 419.5,818.0 427.5,817.5 435.5,814.3 443.5,810.8 451.5,816.3 459.5,815.0 467.5,816.3 475.5,809.3 483.5,809.3 491.5,806.3 499.5,805.8 507.5,800.0 515.5,800.0 523.5,799.5 531.5,797.5 539.5,796.8 547.5,794.5 555.5,787.0 563.5,787.0 571.5,793.0 579.5,798.8 587.5,807.0 595.5,805.8 603.5,816.3 611.5,823.0 619.5,823.0 627.5,816.3 635.5,815.8 643.5,820.0 651.5,824.3 659.5,829.3 667.5,824.5 675.5,824.5 683.5,811.3 691.5,803.3 699.5,805.0 707.5,807.0 715.5,814.3 723.5,817.0 731.5,810.0 739.5,808.0 747.5,809.3 755.5,803.8 763.5,803.8 771.5,798.3 779.5,808.0 787.5,807.5 795.5,807.0 803.5,808.3 811.5,816.8 819.5,815.8 827.5,820.0 835.5,815.0 843.5,816.3 851.5,808.0 859.5,808.0 867.5,817.5 875.5,817.5 883.5,810.0 891.5,810.0 899.5,818.8 907.5,813.8 915.5,808.8 923.5,806.3 931.5,802.5 939.5,791.3 947.5,786.3 955.5,785.5 963.5,783.8 971.5,785.0 979.5,782.5 987.5,780.5 995.5,775.0 1003.5,773.8 1011.5,770.8 1019.5,774.3 1027.5,770.8 1035.5,782.5 1043.5,793.8 1051.5,795.0 1059.5,790.0 1067.5,789.3 1075.5,786.3 1083.5,786.3" fill="none" stroke="#1E90FF" stroke-width="2" stroke-linejoin="round" shape-rendering="crispEdges"/>
<g shape-rendering="crispEdges" fill="#000">
<rect x="2" y="2" width="1135" height="1"/>
<rect x="2" y="2" width="1" height="875"/>
<rect x="1136" y="2" width="1" height="875"/>
<rect x="2" y="607" width="1135" height="1"/>
<rect x="2" y="609" width="1135" height="1"/>
<rect x="2" y="751" width="1135" height="1"/>
<rect x="2" y="753" width="1135" height="1"/>
<rect x="2" y="876" width="1135" height="1"/>
<rect x="2" y="608" width="1135" height="1" fill="#fff"/>
<rect x="2" y="752" width="1135" height="1" fill="#fff"/>
<rect x="1137" y="49" width="2" height="1"/>
<rect x="1137" y="98" width="2" height="1"/>
<rect x="1137" y="147" width="2" height="1"/>
<rect x="1137" y="196" width="2" height="1"/>
<rect x="1137" y="245" width="2" height="1"/>
<rect x="1137" y="294" width="2" height="1"/>
<rect x="1137" y="343" width="2" height="1"/>
<rect x="1137" y="392" width="2" height="1"/>
<rect x="1137" y="441" width="2" height="1"/>
<rect x="1137" y="490" width="2" height="1"/>
<rect x="1137" y="539" width="2" height="1"/>
<rect x="1137" y="588" width="2" height="1"/>
<rect x="1137" y="611" width="1" height="1"/><rect x="1137" y="736" width="1" height="1"/><rect x="1137" y="750" width="1" height="1"/>
<rect x="1137" y="755" width="1" height="1"/>
<rect x="1137" y="791" width="1" height="1"/>
<rect x="1137" y="839" width="1" height="1"/>
<rect x="1137" y="875" width="1" height="1"/>
<rect x="3" y="877" width="1" height="3"/>
<rect x="99" y="877" width="1" height="3"/>
<rect x="195" y="877" width="1" height="3"/>
<rect x="291" y="877" width="1" height="3"/>
<rect x="387" y="877" width="1" height="3"/>
<rect x="483" y="877" width="1" height="3"/>
<rect x="579" y="877" width="1" height="3"/>
<rect x="675" y="877" width="1" height="3"/>
<rect x="771" y="877" width="1" height="3"/>
<rect x="867" y="877" width="1" height="3"/>
<rect x="963" y="877" width="1" height="3"/>
<rect x="1059" y="877" width="1" height="3"/>
<rect x="1136" y="82" width="1" height="1" fill="#000080"/>
<rect x="1138" y="75" width="56" height="14"/>
<rect x="6" y="10" width="9" height="1"/><rect x="7" y="11" width="7" height="1"/><rect x="8" y="12" width="5" height="1"/><rect x="9" y="13" width="3" height="1"/><rect x="10" y="14" width="1" height="1"/>
</g>
<text y="17" style="font-size:13px"><tspan x="21" textLength="70" lengthAdjust="spacingAndGlyphs">USDJPY,Daily</tspan><tspan x="100.5" textLength="44.5" lengthAdjust="spacingAndGlyphs">123.572</tspan><tspan x="150.5" textLength="44.5" lengthAdjust="spacingAndGlyphs">124.045</tspan><tspan x="200.5" textLength="44.5" lengthAdjust="spacingAndGlyphs">123.499</tspan><tspan x="250.5" textLength="44.5" lengthAdjust="spacingAndGlyphs">123.805</tspan></text>
<text x="1143.4" y="54.0" textLength="45" lengthAdjust="spacingAndGlyphs" style="font-size:12.5px">124.660</text>
<text x="1143.4" y="103.0" textLength="45" lengthAdjust="spacingAndGlyphs" style="font-size:12.5px">123.410</text>
<text x="1143.4" y="152.0" textLength="45" lengthAdjust="spacingAndGlyphs" style="font-size:12.5px">122.160</text>
<text x="1143.4" y="201.0" textLength="45" lengthAdjust="spacingAndGlyphs" style="font-size:12.5px">120.910</text>
<text x="1143.4" y="250.0" textLength="45" lengthAdjust="spacingAndGlyphs" style="font-size:12.5px">119.660</text>
<text x="1143.4" y="299.0" textLength="45" lengthAdjust="spacingAndGlyphs" style="font-size:12.5px">118.410</text>
<text x="1143.4" y="348.0" textLength="45" lengthAdjust="spacingAndGlyphs" style="font-size:12.5px">117.160</text>
<text x="1143.4" y="397.0" textLength="45" lengthAdjust="spacingAndGlyphs" style="font-size:12.5px">115.910</text>
<text x="1143.4" y="446.0" textLength="45" lengthAdjust="spacingAndGlyphs" style="font-size:12.5px">114.685</text>
<text x="1143.4" y="495.0" textLength="45" lengthAdjust="spacingAndGlyphs" style="font-size:12.5px">113.435</text>
<text x="1143.4" y="544.0" textLength="45" lengthAdjust="spacingAndGlyphs" style="font-size:12.5px">112.185</text>
<text x="1143.4" y="593.0" textLength="45" lengthAdjust="spacingAndGlyphs" style="font-size:12.5px">110.935</text>
<text x="1143.4" y="86.7" textLength="45" lengthAdjust="spacingAndGlyphs" style="fill:#fff;font-size:12.5px">123.805</text>
<text y="625" style="font-size:13px"><tspan x="7" textLength="84.6" lengthAdjust="spacingAndGlyphs">MACD(12,26,9)</tspan><tspan x="96.2" textLength="38.4" lengthAdjust="spacingAndGlyphs">1.8552</tspan><tspan x="139" textLength="38.4" lengthAdjust="spacingAndGlyphs">1.8276</tspan></text>
<text x="1140.3" y="623" textLength="38.4" lengthAdjust="spacingAndGlyphs">2.0425</text>
<text x="1141" y="741">0.00</text>
<text x="1140" y="748.3" textLength="42" lengthAdjust="spacingAndGlyphs">-0.2274</text>
<text y="769" style="font-size:13px"><tspan x="7" textLength="41" lengthAdjust="spacingAndGlyphs">RSI(14)</tspan><tspan x="53.5" textLength="45" lengthAdjust="spacingAndGlyphs">74.5985</tspan></text>
<text x="1140" y="767.0">100</text>
<text x="1140" y="795.8">70</text>
<text x="1140" y="843.5">30</text>
<text x="1140" y="872.5">0</text>
<text x="1.7" y="891.5" style="font-size:12.35px">29 Sep 2021</text>
<text x="97.7" y="891.5" style="font-size:12.35px">15 Oct 2021</text>
<text x="193.7" y="891.5" style="font-size:12.35px">2 Nov 2021</text>
<text x="289.7" y="891.5" style="font-size:12.35px">18 Nov 2021</text>
<text x="385.7" y="891.5" style="font-size:12.35px">6 Dec 2021</text>
<text x="481.7" y="891.5" style="font-size:12.35px">22 Dec 2021</text>
<text x="577.7" y="891.5" style="font-size:12.35px">7 Jan 2022</text>
<text x="673.7" y="891.5" style="font-size:12.35px">25 Jan 2022</text>
<text x="769.7" y="891.5" style="font-size:12.35px">10 Feb 2022</text>
<text x="865.7" y="891.5" style="font-size:12.35px">28 Feb 2022</text>
<text x="961.7" y="891.5" style="font-size:12.35px">16 Mar 2022</text>
<text x="1057.7" y="891.5" style="font-size:12.35px">1 Apr 2022</text>
<text class="lbl" x="235.5" y="539.6" text-anchor="middle">A</text>
<text class="lbl" x="323.5" y="403.0" text-anchor="middle">B</text>
<text class="lbl" x="363.5" y="545.0" text-anchor="middle">C</text>
<text class="lbl" x="555.3" y="369.5" text-anchor="middle">D</text>
<text class="lbl" x="667.8" y="508.8" text-anchor="middle">E</text>
</svg></body></html>
